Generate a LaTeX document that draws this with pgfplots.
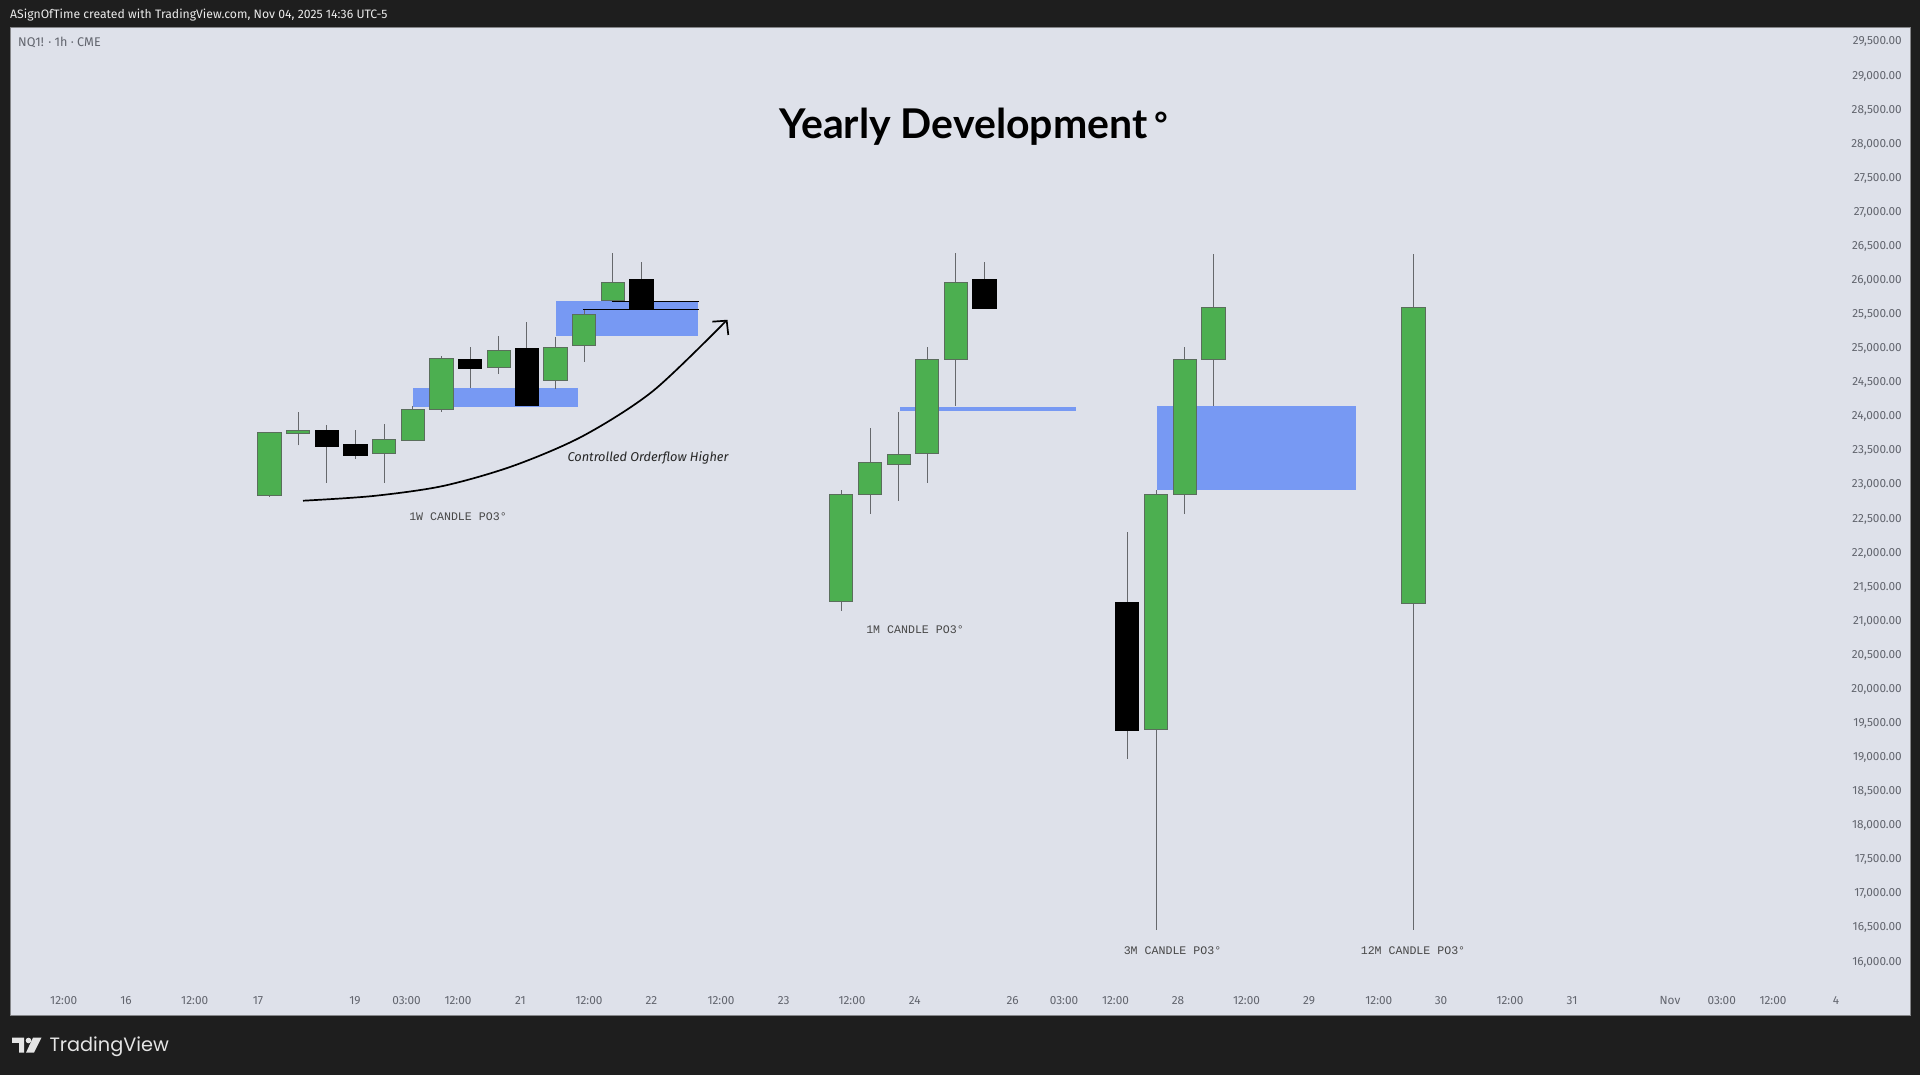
\documentclass[border=0pt]{standalone}
\usepackage{fontspec}
\usepackage{pgfplots}
\pgfplotsset{compat=1.18}
\setmainfont{Fira Sans}
\newfontfamily\monof{Liberation Mono}
\newfontfamily\titlef{Lato}
\newfontfamily\logof{Poppins}
\definecolor{frame}{HTML}{1E1E1E}
\definecolor{panel}{HTML}{DEE1EA}
\definecolor{zone}{HTML}{7799F3}
\definecolor{cgreen}{HTML}{4CAF50}
\definecolor{cedge}{HTML}{5A6E5C}
\definecolor{wick}{HTML}{66686C}
\definecolor{ticktxt}{HTML}{62656E}
% x, low, body bottom, body top, high, body colour, edge colour; half width 11.75
\newcommand{\candle}[7]{%
 \addplot[wick, line width=0.9pt] coordinates {(#1,#2) (#1,#5)};
 \addplot[draw=#7, fill=#6, line width=0.9pt] coordinates {(#1-11.75,#3) (#1+11.75,#3) (#1+11.75,#4) (#1-11.75,#4)} -- cycle;}
\newcommand{\zone}[4]{\addplot[draw=none, fill=zone] coordinates {(#1,#3) (#2,#3) (#2,#4) (#1,#4)} -- cycle;}
\newcommand{\plab}[3]{\node[font=\monof\fontsize{11.6}{12}\selectfont, text=black!72, inner sep=0pt] at (axis cs:#1,#2) {#3};}
\begin{document}
\begin{tikzpicture}
\begin{scope}[x=1pt,y=1pt]
\fill[frame] (0,0) rectangle (1920,1075);
\node[anchor=west, text=white!92!black, inner sep=0pt, font=\fontsize{12.2}{13}\selectfont] at (10,1060) {ASignOfTime created with TradingView.com, Nov 04, 2025 14:36 UTC-5};
% logo
\fill[white!90!black] (12,37.3) -- (24,37.3) -- (24,22.3) -- (19,22.3) -- (19,32) -- (12,32) -- cycle;
\fill[white!90!black] (28.5,34.5) circle (2.8);
\fill[white!90!black] (33,37.3) -- (41.5,37.3) -- (34,22.3) -- (26,22.3) -- cycle;
\node[anchor=base west, text=white!90!black, inner sep=0pt, font=\logof\fontsize{19.3}{22}\selectfont] at (49.3,23.3) {TradingView};
\end{scope}
\begin{axis}[
  at={(10pt,60pt)}, anchor=south west, scale only axis, width=1900pt, height=988pt,
  xmin=10, xmax=1910, ymin=15208, ymax=29705,
  axis background/.style={fill=panel},
  axis line style={draw=wick!80!white, line width=0.9pt},
  major tick length=0pt, clip=false,
  tick label style={font=\fontsize{11.8}{12}\selectfont, text=ticktxt},
  xtick={63.7,126,194.7,258,355,406.5,458,520.4,589,651.4,721,783.7,852,914.7,1012.7,1064,1115.5,1178,1246.5,1309,1378.8,1441,1510,1572,1670,1721.7,1773,1836},
  xticklabels={12:00,16,12:00,17,19,03:00,12:00,21,12:00,22,12:00,23,12:00,24,26,03:00,12:00,28,12:00,29,12:00,30,12:00,31,Nov,03:00,12:00,4},
  xticklabel style={anchor=center, yshift=14pt},
  ytick={16000,16500,...,29500},
  scaled y ticks=false,
  yticklabel pos=right,
  yticklabel style={anchor=east, xshift=-8pt, yshift=-1pt, inner xsep=0pt, /pgf/number format/fixed, /pgf/number format/fixed zerofill, /pgf/number format/precision=2, /pgf/number format/1000 sep={,}, /pgf/number format/assume math mode=true},
]
% blue zones
\zone{412.7}{578}{24134}{24408}
\zone{556}{698}{25166}{25685}
\zone{900}{1076}{24076}{24129}
\zone{1157}{1356}{22911}{24144}
% 1W candles
\candle{269.3}{22814}{22828}{23753}{23753}{cgreen}{cedge}
\candle{298}{23567}{23743}{23782}{24056}{cgreen}{cedge}
\candle{326.7}{23019}{23548}{23782}{23865}{black}{black}
\candle{355.3}{23366}{23420}{23582}{23787}{black}{black}
\candle{384}{23019}{23454}{23650}{23885}{cgreen}{cedge}
\candle{412.7}{23640}{23640}{24095}{24144}{cgreen}{cedge}
\candle{441.3}{24061}{24090}{24844}{24873}{cgreen}{cedge}
\candle{470}{24408}{24702}{24829}{25015}{black}{black}
\candle{498.7}{24614}{24707}{24956}{25176}{cgreen}{cedge}
\candle{526.7}{24144}{24159}{24990}{25382}{black}{black}
\candle{555.3}{24398}{24516}{25010}{25161}{cgreen}{cedge}
\candle{584}{24790}{25039}{25489}{25562}{cgreen}{cedge}
\candle{612.7}{25690}{25690}{25959}{26384}{cgreen}{cedge}
\candle{641.3}{25582}{25582}{26003}{26252}{black}{black}
% 1M candles
\candle{841}{21141}{21278}{22848}{22907}{cgreen}{cedge}
\candle{870}{22560}{22843}{23318}{23826}{cgreen}{cedge}
\candle{898.7}{22755}{23283}{23430}{24061}{cgreen}{cedge}
\candle{927}{23019}{23454}{24829}{25015}{cgreen}{cedge}
\candle{955.7}{24149}{24824}{25959}{26384}{cgreen}{cedge}
\candle{984.3}{25582}{25582}{26003}{26252}{black}{black}
% 3M candles
\candle{1127}{18970}{19386}{21256}{22294}{black}{black}
\candle{1156}{16457}{19393}{22849}{22904}{cgreen}{cedge}
\candle{1184.7}{22558}{22849}{24822}{25016}{cgreen}{cedge}
\candle{1213.3}{24150}{24822}{25591}{26380}{cgreen}{cedge}
% 12M candle
\candle{1413.3}{16457}{21249}{25591}{26380}{cgreen}{cedge}
% level lines
\addplot[black, line width=1pt] coordinates {(611.7,25680) (698.7,25680)};
\addplot[black, line width=1pt] coordinates {(583.3,25562) (698.7,25562)};
% arrow
\addplot[black, line width=1.7pt, smooth] coordinates {(303,22754) (373,22823) (443,22970) (513,23264) (583,23704) (653,24364) (726,25391)};
\addplot[black, line width=1.7pt] coordinates {(712.3,25381) (726.7,25396) (728.3,25186)};
% text
\node[anchor=west, inner sep=0pt, text=ticktxt, font=\fontsize{12.6}{13}\selectfont] at (axis cs:18,29475) {NQ1! · 1h · CME};
\node[anchor=base west, inner sep=0pt, font=\titlef\bfseries\fontsize{41}{44}\selectfont] at (axis cs:779,28066) {Yearly Development\hspace{7pt}\raisebox{3pt}{\fontsize{32}{34}\selectfont °}};
\node[anchor=center, inner sep=0pt, font=\itshape\fontsize{12.8}{14}\selectfont, text=black!85] at (axis cs:648,23375) {Controlled Orderflow Higher};
\plab{458}{22519}{1W CANDLE PO3°}
\plab{915}{20867}{1M CANDLE PO3°}
\plab{1172.5}{16145}{3M CANDLE PO3°}
\plab{1413}{16145}{12M CANDLE PO3°}
\end{axis}
\end{tikzpicture}
\end{document}
